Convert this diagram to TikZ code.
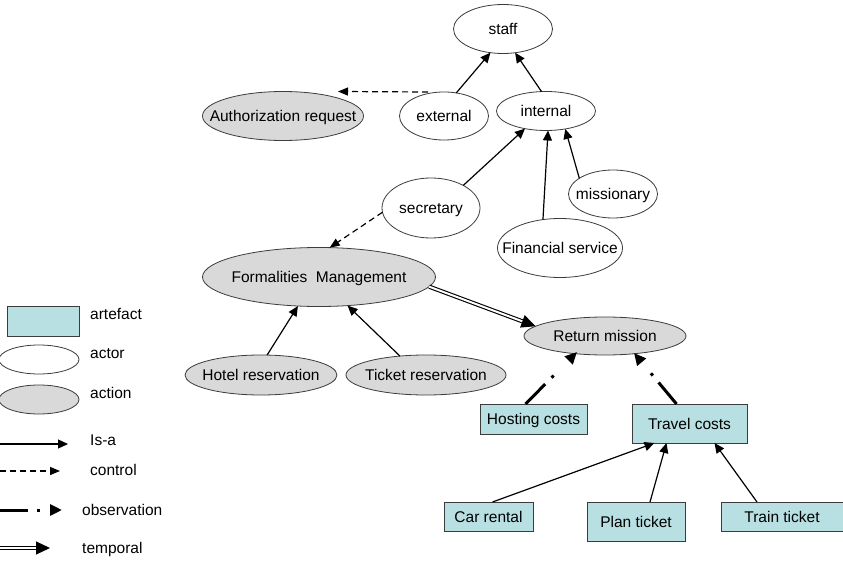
\documentclass[tikz,border=0pt]{standalone}
\usepackage{fontspec}
\setmainfont{Liberation Sans}
\usetikzlibrary{shapes.geometric,arrows.meta,calc}
\definecolor{actiongray}{RGB}{217,217,217}
\definecolor{artcyan}{RGB}{184,223,226}
\definecolor{bordergray}{RGB}{60,60,60}
\newcommand{\txtfont}{\fontsize{15.5}{18}\selectfont}
\tikzset{
  base/.style={draw=bordergray, line width=0.8pt, inner sep=0pt, outer sep=0pt},
  actor/.style={base, ellipse, fill=white},
  action/.style={base, ellipse, fill=actiongray},
  artefact/.style={base, rectangle, fill=artcyan, font=\txtfont, text height=11.1pt, text depth=0pt},
  every label/.style={font=\txtfont, text height=11.1pt, text depth=0pt, inner sep=0pt},
  legtext/.style={anchor=west, inner sep=0pt, font=\txtfont, text height=11.1pt, text depth=0pt},
  isa/.style={draw=black, line width=1.2pt, -{Triangle[length=10pt,width=9pt]}},
  ctrl/.style={draw=black, line width=1.2pt, dash pattern=on 6pt off 4pt, -{Triangle[length=10pt,width=8pt]}},
  obs/.style={draw=black, line width=3pt, dash pattern=on 28pt off 9pt on 3pt off 30pt, -{Triangle[length=12pt,width=11pt]}},
  temp/.style={draw=black, double=white, double distance=2pt, line width=1.1pt, -{Triangle[length=14pt,width=13pt]}}
}
\begin{document}
\begin{tikzpicture}[x=1pt,y=-1pt]
\useasboundingbox (0,0) rectangle (843,561);
\fill[white] (0,0) rectangle (843,561);

% actors
\node[actor, minimum width=99pt, minimum height=49pt, label=center:staff] (staff) at (503,29) {};
\node[actor, minimum width=89pt, minimum height=48pt, label=center:external] (ext) at (444,116) {};
\node[actor, minimum width=99pt, minimum height=39pt, label=center:internal] (int) at (546,111) {};
\node[actor, minimum width=98pt, minimum height=60pt, label=center:secretary] (sec) at (431,208) {};
\node[actor, minimum width=89pt, minimum height=48pt, label=center:missionary] (mis) at (613,194) {};
\node[actor, minimum width=125pt, minimum height=59pt, label=center:Financial service] (fin) at (560,248) {};

% actions
\node[action, minimum width=161pt, minimum height=49pt, label=center:Authorization request] (auth) at (283,116) {};
\node[action, minimum width=233pt, minimum height=59pt, label=center:{Formalities\ \ Management}] (fm) at (319,277) {};
\node[action, minimum width=152pt, minimum height=40pt, label=center:Hotel reservation] (hotel) at (261,375) {};
\node[action, minimum width=160pt, minimum height=40pt, label=center:Ticket reservation] (tick) at (426,375) {};
\node[action, minimum width=162pt, minimum height=38pt, label=center:Return mission] (ret) at (605,336) {};

% artefacts
\node[artefact, minimum width=107pt, minimum height=30pt] (host) at (533.5,419) {Hosting costs};
\node[artefact, minimum width=115pt, minimum height=39pt] (trav) at (689.5,423.5) {Travel costs};
\node[artefact, minimum width=89pt, minimum height=29pt] (car) at (488.5,516.5) {Car rental};
\node[artefact, minimum width=98pt, minimum height=39pt] (plan) at (636,521.5) {Plan ticket};
\node[artefact, minimum width=122pt, minimum height=29pt] (train) at (782,516.5) {Train ticket};

% is-a links
\draw[isa] (ext.62) -- (staff.242);
\draw[isa] (int.103) -- (staff.297);
\draw[isa] (sec.35) -- (int.220);
\draw[isa] (mis.155) -- (int.317);
\draw[isa] (fin.121) -- (int.276);
\draw[isa] (hotel.73) -- (fm.234);
\draw[isa] (tick.144) -- (fm.315);
\draw[isa] ($(car.north)+(4,0)$) -- ($(trav.south)+(-35,0)$);
\draw[isa] ($(plan.north)+(14,0)$) -- ($(trav.south)+(-23,0)$);
\draw[isa] ($(train.north)+(-25,0)$) -- ($(trav.south)+(25,0)$);

% control links
\draw[ctrl] ($(ext.north)+(-16,0)$) -- ($(auth.north)+(55,0)$);
\draw[ctrl] (sec.185) -- (fm.70);

% temporal
\draw[temp] (fm.-5) -- (ret.172);

% observation
\draw[obs] ($(host.north)+(-8,0)$) -- ($(ret.south)+(-28,-3)$);
\draw[obs] ($(trav.north)+(-13,0)$) -- ($(ret.south)+(29,-2)$);

% legend
\node[artefact, minimum width=72pt, minimum height=30pt] (legart) at (43,321) {};
\node[legtext] (legarttxt) at (90,314) {artefact};
\node[actor, minimum width=80pt, minimum height=29pt] (legactor) at (39,359.5) {};
\node[legtext] (legactortxt) at (90,353) {actor};
\node[action, minimum width=80pt, minimum height=29pt] (legaction) at (39,399.5) {};
\node[legtext] (legactiontxt) at (90,393) {action};

\coordinate (isaA) at (0,444);
\coordinate (isaB) at (68,444);
\draw[isa] (isaA) -- (isaB);
\node[legtext] (legisa) at (90,440) {Is-a};

\coordinate (ctrlA) at (0,471);
\coordinate (ctrlB) at (60,471);
\draw[ctrl] (ctrlA) -- (ctrlB);
\node[legtext] (legctrl) at (90,470) {control};

\coordinate (obsA) at (0,510);
\coordinate (obsB) at (62,510);
\draw[obs] (obsA) -- (obsB);
\node[legtext] (legobs) at (82,510) {observation};

\coordinate (tempA) at (-2,548);
\coordinate (tempB) at (50,548);
\draw[temp] (tempA) -- (tempB);
\node[legtext] (legtemp) at (82,548) {temporal};
\end{tikzpicture}
\end{document}
